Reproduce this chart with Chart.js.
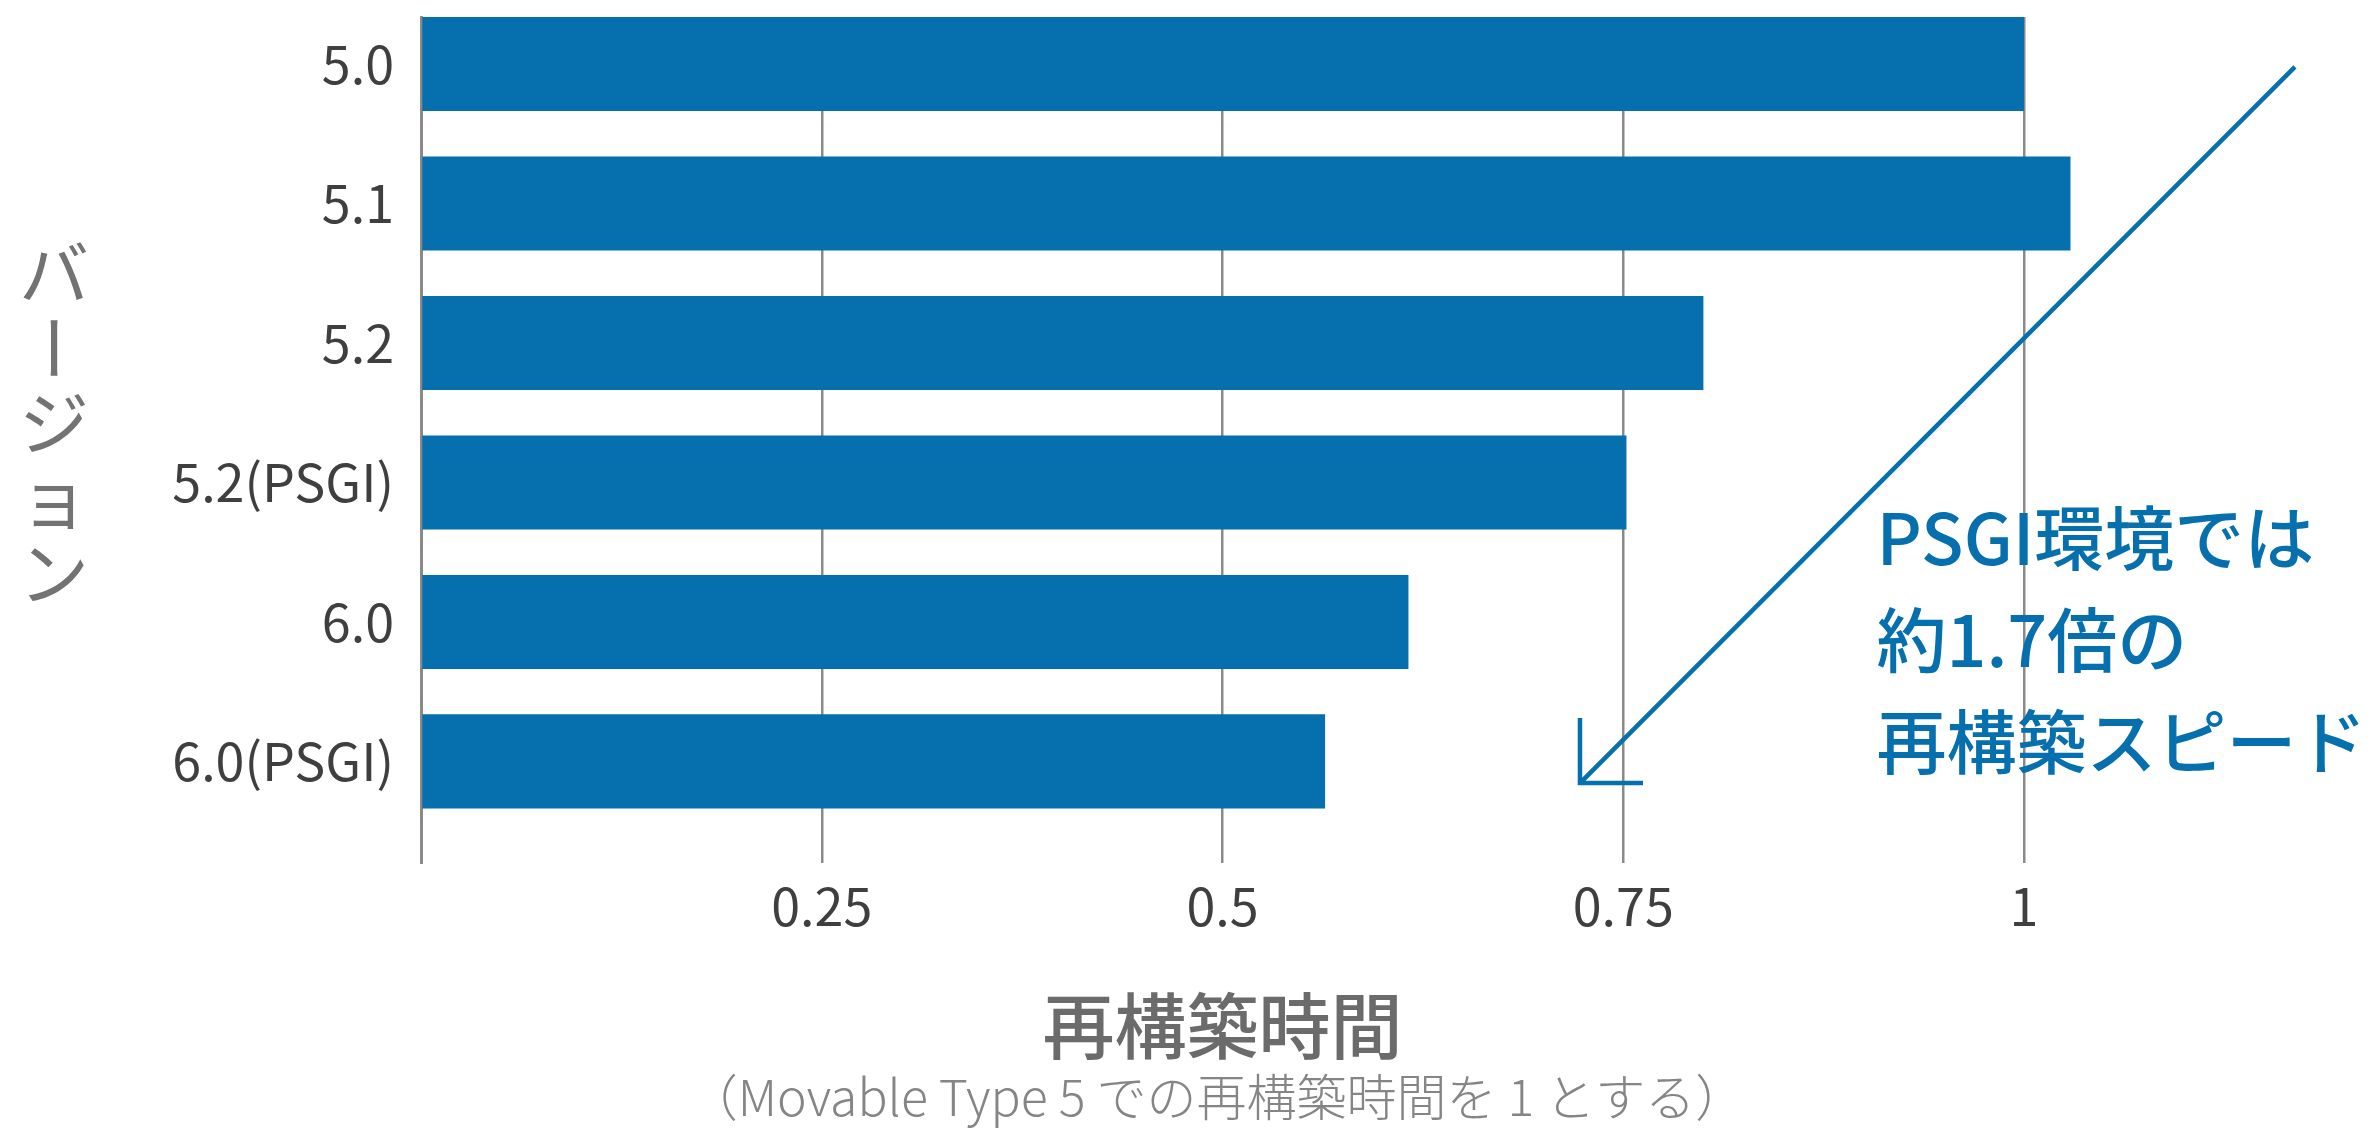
<!DOCTYPE html>
<html lang="ja">
<head>
<meta charset="utf-8">
<title>再構築時間</title>
<script src="https://cdn.jsdelivr.net/npm/chart.js@4.4.1/dist/chart.umd.min.js"></script>
<style>
  html, body { margin: 0; padding: 0; background: #fff; }
  #wrap { width: 2374px; height: 1131px; position: relative; }
</style>
</head>
<body>
<div id="wrap"><canvas id="myChart"></canvas></div>
<script>
// バージョンごとの再構築時間（MT5 = 1）
const versions = ["5.0", "5.1", "5.2", "5.2(PSGI)", "6.0", "6.0(PSGI)"];
const rebuildTimes = [1.0, 1.029, 0.8, 0.752, 0.616, 0.564];
const xTicks = [0, 0.25, 0.5, 0.75, 1];

const xTitle = "再構築時間";
const xSubtitle = "（Movable Type 5 での再構築時間を 1 とする）";
const yTitle = "バージョン";
const noteLines = ["PSGI環境では", "約1.7倍の", "再構築スピード"];
// 矢印（値の座標: [x, バージョン番号]）
const arrowFrom = [1.169, 0.02];
const arrowTo = [0.723, 5.155];

const blue = "#066fad";
const FONT = '"Noto Sans CJK JP", "Noto Sans", sans-serif';

const notes = {
  id: "notes",
  afterDraw(chart) {
    const { ctx, chartArea, scales } = chart;
    const { x, y } = scales;
    ctx.save();

    // 縦書きの軸タイトル
    ctx.fillStyle = "#737373";
    ctx.font = "70px " + FONT;
    ctx.textAlign = "center";
    ctx.textBaseline = "middle";
    const chars = [...yTitle];
    const step = 75;
    const top = 423 - (step * (chars.length - 1)) / 2;
    chars.forEach((ch, i) => {
      const cy = top + i * step;
      if (ch === "ー") {
        ctx.save();
        ctx.translate(54, cy);
        ctx.rotate(Math.PI / 2);
        ctx.fillText(ch, 0, 0);
        ctx.restore();
      } else {
        ctx.fillText(ch, 54, cy);
      }
    });

    // サブタイトル
    ctx.fillStyle = "#858585";
    ctx.font = "300 50px " + FONT;
    ctx.fillText(xSubtitle, (chartArea.left + chartArea.right) / 2 - 6, 1097);

    // 矢印
    const x1 = x.getPixelForValue(arrowFrom[0]);
    const y1 = y.getPixelForValue(arrowFrom[1]);
    const x2 = x.getPixelForValue(arrowTo[0]);
    const y2 = y.getPixelForValue(arrowTo[1]);
    ctx.strokeStyle = blue;
    ctx.lineWidth = 4.5;
    ctx.beginPath();
    ctx.moveTo(x1, y1);
    ctx.lineTo(x2, y2);
    ctx.moveTo(x2, y2 - 65);
    ctx.lineTo(x2, y2);
    ctx.lineTo(x2 + 63, y2);
    ctx.stroke();

    // 注記
    ctx.fillStyle = blue;
    ctx.font = "500 70px " + FONT;
    ctx.textAlign = "left";
    const nx = x.getPixelForValue(0.908);
    noteLines.forEach((t, i) => ctx.fillText(t, nx, 538 + i * 102));

    ctx.restore();
  }
};

document.addEventListener("DOMContentLoaded", () => {
  const canvas = document.getElementById("myChart");
  const ctx = canvas.getContext("2d");

  new Chart(ctx, {
    type: "bar",
    data: {
      datasets: [
        {
          data: rebuildTimes.map((v, i) => ({ x: v, y: i })),
          backgroundColor: blue,
          borderWidth: 0,
          barPercentage: 0.675,
          categoryPercentage: 1,
          clip: false
        }
      ]
    },
    options: {
      indexAxis: "y",
      responsive: true,
      maintainAspectRatio: false,
      animation: false,
      layout: { padding: { top: 17, right: 350, left: 0, bottom: 0 } },
      plugins: {
        legend: { display: false },
        tooltip: { enabled: false }
      },
      scales: {
        x: {
          type: "linear",
          min: 0,
          max: 1,
          afterBuildTicks: (s) => { s.ticks = xTicks.map((v) => ({ value: v })); },
          afterFit: (s) => { s.height = 268; s.paddingLeft = 0; s.paddingRight = 0; },
          ticks: {
            color: "#3f3f3f",
            font: { family: FONT, size: 52 },
            padding: 12,
            maxRotation: 0,
            callback: (v) => (v === 0 ? "" : String(v))
          },
          grid: { color: "#8a8a8a", lineWidth: 2.5, drawTicks: false },
          border: { display: false },
          title: {
            display: true,
            text: xTitle,
            color: "#6b6b6b",
            font: { family: FONT, size: 72, weight: "500" },
            padding: { top: 0, bottom: 62 }
          }
        },
        y: {
          type: "linear",
          reverse: true,
          offset: false,
          bounds: "data",
          min: -0.337,
          max: 5.728,
          afterBuildTicks: (s) => { s.ticks = versions.map((_, i) => ({ value: i })); },
          afterFit: (s) => { s.width = 421; s.paddingTop = 0; s.paddingBottom = 0; },
          ticks: {
            color: "#3f3f3f",
            font: { family: FONT, size: 52 },
            padding: 27,
            callback: (v) => versions[v] ?? ""
          },
          grid: { display: false, drawTicks: false, offset: false },
          border: { display: true, color: "#8a8a8a", width: 3 }
        }
      }
    },
    plugins: [notes]
  });
});
</script>
</body>
</html>
